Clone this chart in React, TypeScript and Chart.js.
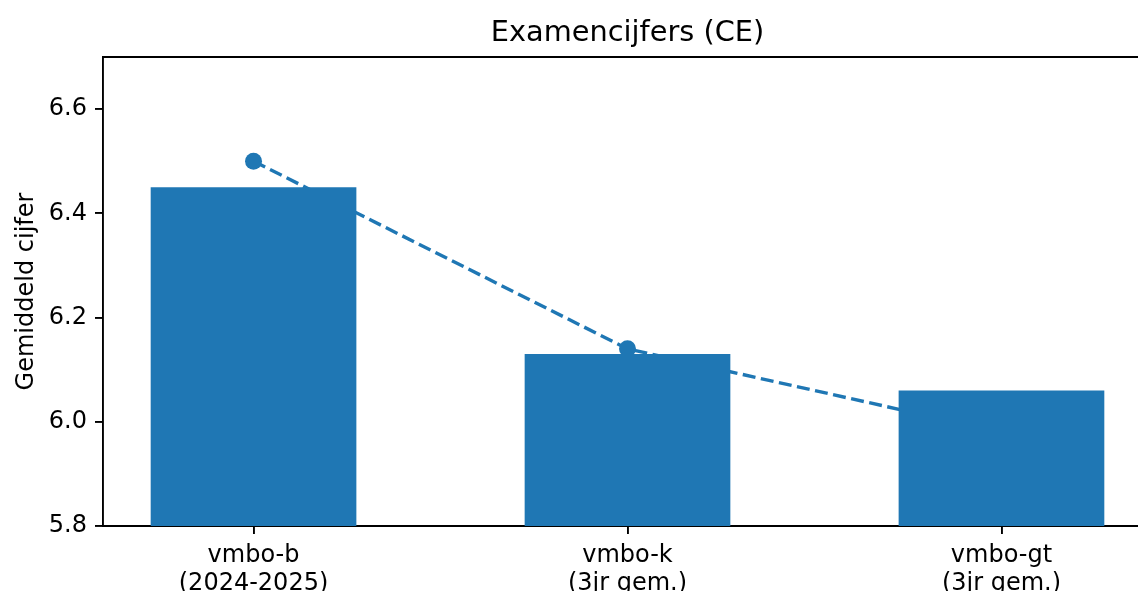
import React, { useEffect, useRef } from "react";
import { Chart, registerables } from "chart.js";

Chart.register(...registerables);

const categories = ["vmbo-b", "vmbo-k", "vmbo-gt"];
const tickLabels = [
  ["vmbo-b", "(2024-2025)"],
  ["vmbo-k", "(3jr gem.)"],
  ["vmbo-gt", "(3jr gem.)"],
];
const barValues = [6.45, 6.13, 6.06];
const lineValues = [6.5, 6.14, 5.98];
const yTicks = [5.8, 6.0, 6.2, 6.4, 6.6];

const BLUE = "#1f77b4";

export default function App() {
  const ref = useRef<HTMLCanvasElement | null>(null);

  useEffect(() => {
    if (!ref.current) return;
    Chart.defaults.font.family = "'DejaVu Sans', sans-serif";
    Chart.defaults.color = "#000";

    const topSpine = {
      id: "topSpine",
      afterDraw(chart: any) {
        const { ctx, chartArea } = chart;
        ctx.save();
        ctx.strokeStyle = "#000";
        ctx.lineWidth = 1.9;
        ctx.beginPath();
        ctx.moveTo(chartArea.left - 1, chartArea.top);
        ctx.lineTo(chartArea.right, chartArea.top);
        ctx.lineTo(chartArea.right, chartArea.bottom);
        ctx.stroke();
        ctx.restore();
      },
    };

    const chart = new Chart(ref.current, {
      data: {
        datasets: [
          {
            type: "bar",
            label: "CE",
            data: categories.map((_, i) => ({ x: i, y: barValues[i] })),
            backgroundColor: BLUE,
            borderWidth: 0,
            barPercentage: 0.55,
            categoryPercentage: 1,
            order: 1,
          } as any,
          {
            type: "line",
            label: "trend",
            data: categories.map((_, i) => ({ x: i, y: lineValues[i] })),
            borderColor: BLUE,
            backgroundColor: BLUE,
            borderWidth: 3.4,
            borderDash: [13, 5.5],
            pointRadius: 8.5,
            pointBackgroundColor: BLUE,
            pointBorderWidth: 0,
            tension: 0,
            order: 2,
          } as any,
        ],
      },
      options: {
        responsive: false,
        animation: false,
        layout: { padding: 0 },
        plugins: {
          legend: { display: false },
          tooltip: { enabled: false },
          title: {
            display: true,
            text: "Examencijfers (CE)",
            color: "#000",
            font: { size: 28.8, weight: "normal", lineHeight: 1.2 },
            padding: { top: 16, bottom: 6.44 },
          },
        },
        scales: {
          x: {
            type: "linear",
            offset: false,
            min: -0.4025,
            max: 2.4025,
            afterBuildTicks: (scale: any) => {
              scale.ticks = categories.map((_, i) => ({ value: i }));
            },
            afterFit: (scale: any) => {
              scale.height = 94;
            },
            ticks: {
              callback: (v: any) => tickLabels[v as number],
              font: { size: 24, lineHeight: 1.2 },
              padding: 7,
              maxRotation: 0,
              autoSkip: false,
              color: "#000",
            },
            grid: {
              display: true,
              offset: false,
              drawOnChartArea: false,
              drawTicks: true,
              tickLength: 8,
              color: "#000",
              lineWidth: 1.9,
            },
            border: { display: true, color: "#000", width: 1.9 },
          },
          y: {
            type: "linear",
            position: "left",
            min: 5.8,
            max: 6.7,
            afterBuildTicks: (scale: any) => {
              scale.ticks = yTicks.map((v) => ({ value: v }));
            },
            afterFit: (scale: any) => {
              scale.width = 103;
            },
            ticks: {
              callback: (v: any) => Number(v).toFixed(1),
              font: { size: 24 },
              padding: 8,
              color: "#000",
            },
            grid: {
              display: true,
              drawOnChartArea: false,
              drawTicks: true,
              tickLength: 8,
              color: "#000",
              lineWidth: 1.9,
            },
            border: { display: true, color: "#000", width: 1.9 },
            title: {
              display: true,
              text: "Gemiddeld cijfer",
              color: "#000",
              font: { size: 24, lineHeight: 1.2 },
              padding: { top: 12, bottom: 0 },
            },
          },
          yRight: {
            type: "linear",
            position: "right",
            min: 5.8,
            max: 6.7,
            afterFit: (scale: any) => {
              scale.width = 103;
            },
            ticks: { display: false },
            grid: { display: false },
            border: { display: false },
          },
        },
      } as any,
      plugins: [topSpine],
    });

    return () => chart.destroy();
  }, []);

  return (
    <div
      style={{
        position: "fixed",
        left: 0,
        top: 0,
        width: 1138,
        height: 591,
        overflow: "hidden",
        background: "#fff",
      }}
    >
      <canvas ref={ref} width={1255} height={620} style={{ display: "block" }} />
    </div>
  );
}
